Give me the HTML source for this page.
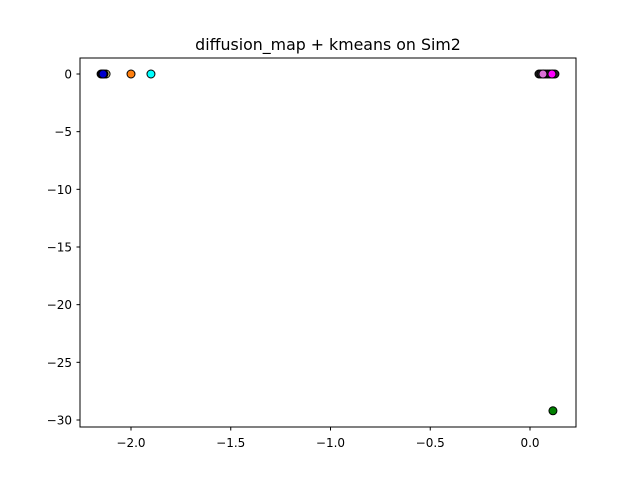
<!DOCTYPE html>
<html><head><meta charset="utf-8"><style>
body{margin:0;background:#fff;}
svg{display:block;font-family:"DejaVu Sans","Liberation Sans",sans-serif;}
</style></head><body>
<svg width="640" height="480">
<rect width="640" height="480" fill="#fff"/>
<text x="328" y="50" font-size="15.8" text-anchor="middle">diffusion_map + kmeans on Sim2</text>
<g id="marks"></g>
<g id="xt"></g>
<g id="yt"></g>
<rect x="80" y="58" width="496" height="369" fill="none" stroke="#000" stroke-width="1"/>
</svg>
<script>
const xs=[-2.125,-2.150,-2.145,-2.135,-2.14,-2.0,-1.9,0.045,0.055,0.07,0.08,0.09,0.1,0.115,0.125,0.065,0.11,0.115];
const ys=[0,0,0,0,0,0,0,0,0,0,0,0,0,0,0,0,0,-29.2];
const colors=["#f0e68c","#222","#222","#222","#0000cc","#ff7f0e","#00ffff","#222","#222","#222","#222","#222","#222","#222","#222","#da70d6","#ff00ff","#008000"];
const xticks=[-2.0,-1.5,-1.0,-0.5,0.0];
const xlabels=["−2.0","−1.5","−1.0","−0.5","0.0"];
const yticks=[0,-5,-10,-15,-20,-25,-30];
const ylabels=["0","−5","−10","−15","−20","−25","−30"];
const X=v=>530+v*199.5, Y=v=>74-v*11.533;
const NS="http://www.w3.org/2000/svg";
const m=document.getElementById('marks');
xs.forEach((x,i)=>{const c=document.createElementNS(NS,'circle');
c.setAttribute('cx',X(x));c.setAttribute('cy',Y(ys[i]));c.setAttribute('r',4);
c.setAttribute('fill',colors[i]);c.setAttribute('stroke','#000');c.setAttribute('stroke-width',1);


m.appendChild(c);});
const xt=document.getElementById('xt');
xticks.forEach((t,i)=>{const l=document.createElementNS(NS,'line');
l.setAttribute('x1',X(t));l.setAttribute('x2',X(t));l.setAttribute('y1',427);l.setAttribute('y2',430.5);l.setAttribute('stroke','#000');


xt.appendChild(l);
const s=document.createElementNS(NS,'text');s.setAttribute('x',X(t));s.setAttribute('y',447);s.setAttribute('font-size',12);s.setAttribute('text-anchor','middle');s.textContent=xlabels[i];


xt.appendChild(s);});
const yt=document.getElementById('yt');
yticks.forEach((t,i)=>{const l=document.createElementNS(NS,'line');
l.setAttribute('x1',76.5);l.setAttribute('x2',80);l.setAttribute('y1',Y(t));l.setAttribute('y2',Y(t));l.setAttribute('stroke','#000');


yt.appendChild(l);
const s=document.createElementNS(NS,'text');s.setAttribute('x',72);s.setAttribute('y',Y(t)+4.5);s.setAttribute('font-size',12);s.setAttribute('text-anchor','end');s.textContent=ylabels[i];


yt.appendChild(s);});
</script>
</body></html>
